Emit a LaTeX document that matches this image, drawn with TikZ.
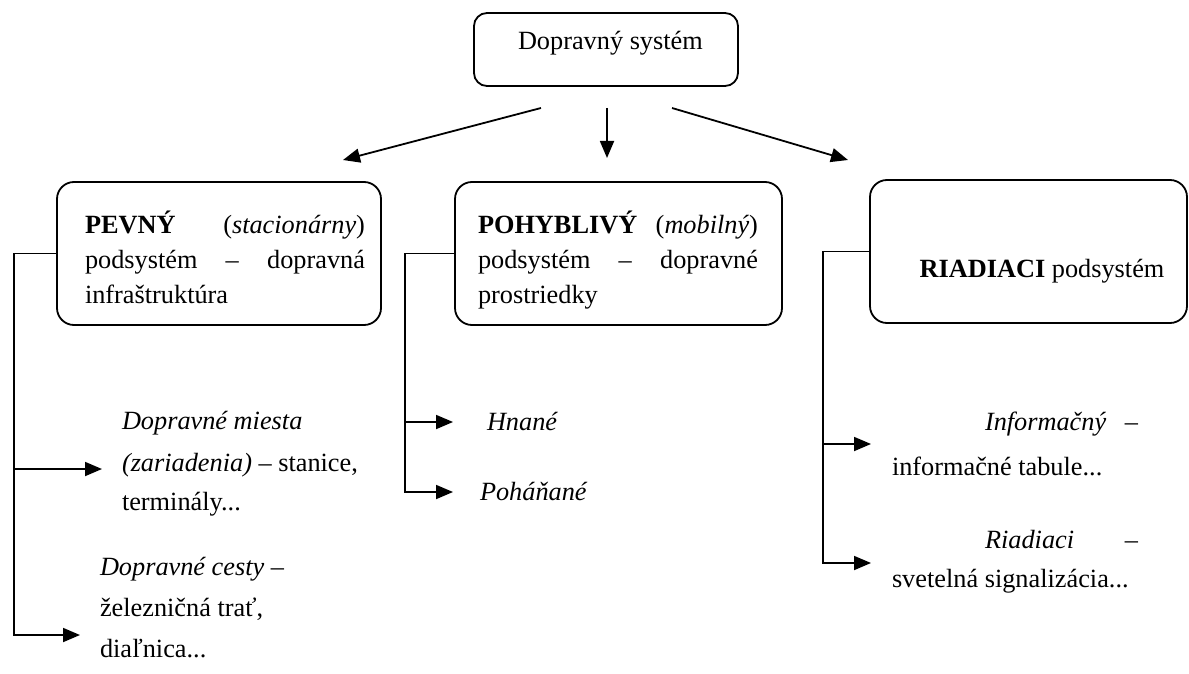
\documentclass[tikz,border=0pt]{standalone}
\usepackage{fontspec}
\setmainfont{Liberation Serif}
\usetikzlibrary{arrows.meta}
\begin{document}
\begin{tikzpicture}[x=1pt,y=-1pt,
  every node/.style={inner sep=0pt, outer sep=0pt, font=\fontsize{26.3}{35}\selectfont},
  boxnode/.style={draw, line width=1.8pt, rounded corners=17pt, anchor=north west},
  txt/.style={anchor=base west},
  conn/.style={line width=1.8pt, -{Triangle[length=17pt,width=14pt]}}]
\useasboundingbox (0,0) rectangle (1189,674);

% boxes
\node[boxnode, minimum width=264pt, minimum height=73pt, rounded corners=13pt] (top) at (474,13) {};
\node[boxnode, minimum width=324pt, minimum height=143pt] (pevny) at (57,182) {};
\node[boxnode, minimum width=327pt, minimum height=143pt] (pohyb) at (455,182) {};
\node[boxnode, minimum width=317pt, minimum height=143pt] (riad) at (870,180) {};

% box texts
\node[txt] (toptxt) at (518,50) {Dopravný systém};
\node[txt] (p1) at (85,233) {\hbox to 280pt{\textbf{PEVNÝ}\hfill(\textit{stacionárny})}};
\node[txt] (p2) at (85,268) {\hbox to 280pt{podsystém\hfill–\hfill dopravná}};
\node[txt] (p3) at (85,303) {infraštruktúra};
\node[txt] (m1) at (478,233) {\hbox to 280pt{\textbf{POHYBLIVÝ}\hfill(\textit{mobilný})}};
\node[txt] (m2) at (478,268) {\hbox to 280pt{podsystém\hfill–\hfill dopravné}};
\node[txt] (m3) at (478,303) {prostriedky};
\node[anchor=base] (r1) at (1042,277) {\textbf{RIADIACI} podsystém};

% item texts
\node[txt] (i1a) at (122,429) {\textit{Dopravné miesta}};
\node[txt] (i1b) at (122,471) {\textit{(zariadenia)} – stanice,};
\node[txt] (i1c) at (122,510) {terminály...};
\node[txt] (i2a) at (100,575) {\textit{Dopravné cesty} –};
\node[txt] (i2b) at (100,616) {železničná trať,};
\node[txt] (i2c) at (100,657) {diaľnica...};
\node[txt] (h1) at (487,430) {\textit{Hnané}};
\node[txt] (h2) at (480,500) {\textit{Poháňané}};
\node[txt] (r2a) at (985,430) {\hbox to 153pt{\textit{Informačný}\hfill–}};
\node[txt] (r2b) at (892,475) {informačné tabule...};
\node[txt] (r3a) at (985,548) {\hbox to 153pt{\textit{Riadiaci}\hfill–}};
\node[txt] (r3b) at (892,587) {svetelná signalizácia...};

% arrows from top
\coordinate (a1s) at (541,108); \coordinate (a1e) at (343,160);
\coordinate (a2s) at (607,108); \coordinate (a2e) at (607,158);
\coordinate (a3s) at (672,108); \coordinate (a3e) at (848,160);
\draw[conn] (a1s) -- (a1e);
\draw[conn] (a2s) -- (a2e);
\draw[conn] (a3s) -- (a3e);

% left bracket
\coordinate (lb1) at (14,469); \coordinate (lt1) at (102,469);
\coordinate (lb2) at (14,635); \coordinate (lt2) at (80,635);
\draw[conn] (pevny.west) -| (lb2) -- (lt2);
\draw[conn] (lb1) -- (lt1);

% middle bracket
\coordinate (mb1) at (405,422); \coordinate (mt1) at (453,422);
\coordinate (mb2) at (405,492); \coordinate (mt2) at (453,492);
\draw[conn] (pohyb.west) -| (mb2) -- (mt2);
\draw[conn] (mb1) -- (mt1);

% right bracket
\coordinate (rb1) at (823,444); \coordinate (rt1) at (871,444);
\coordinate (rb2) at (823,563); \coordinate (rt2) at (871,563);
\draw[conn] (riad.west) -| (rb2) -- (rt2);
\draw[conn] (rb1) -- (rt1);
\end{tikzpicture}
\end{document}
